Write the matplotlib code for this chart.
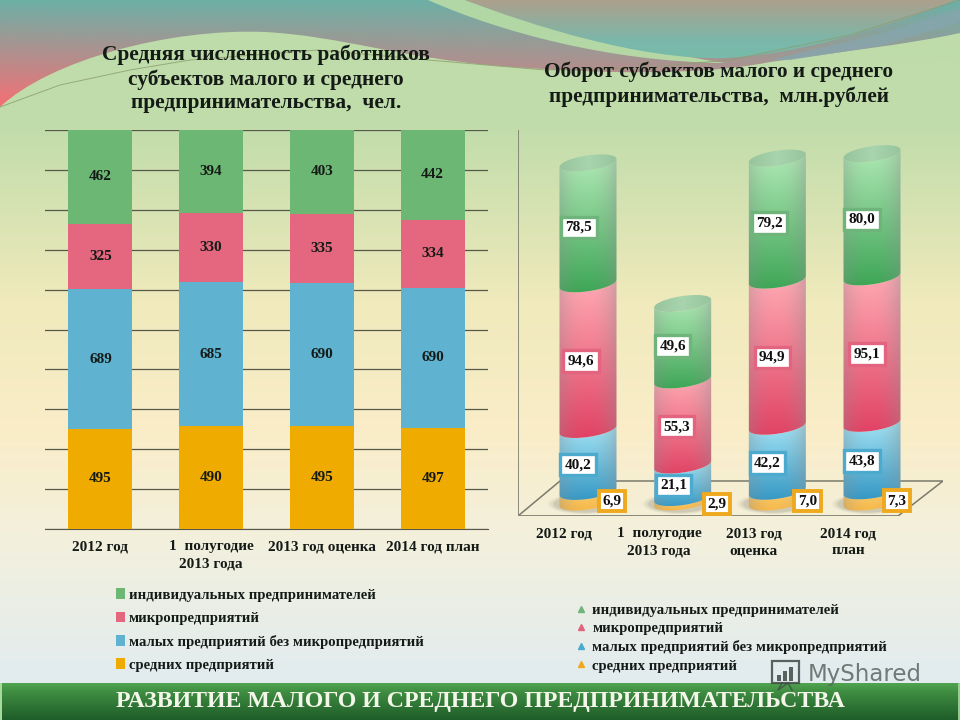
import matplotlib
matplotlib.use('Agg')
import matplotlib.pyplot as plt
import numpy as np
from matplotlib.lines import Line2D
from matplotlib.patches import Ellipse, PathPatch, Patch, Polygon, Rectangle
from matplotlib.path import Path

plt.rcParams['font.family'] = ['Liberation Serif', 'DejaVu Serif']
plt.rcParams['font.weight'] = 'bold'

series_names = ['средних предприятий', 'малых предприятий без микропредприятий',
                'микропредприятий', 'индивидуальных предпринимателей']
staff_medium = [495, 490, 495, 497]
staff_small = [689, 685, 690, 690]
staff_micro = [325, 330, 335, 334]
staff_individual = [462, 394, 403, 442]
staff_years = ['2012 год', '1  полугодие\n2013 года', '2013 год оценка', '2014 год план']

turnover_medium = [6.9, 2.9, 7.0, 7.3]
turnover_small = [40.2, 21.1, 42.2, 43.8]
turnover_micro = [94.6, 55.3, 94.9, 95.1]
turnover_individual = [78.5, 49.6, 79.2, 80.0]
turnover_years = ['2012 год', '1  полугодие\n2013 года', '2013 год\nоценка', '2014 год\nплан']

FLAT = ['#F0AB00', '#5FB3D1', '#E5677F', '#6DB774']
EDGE = ['#EFA91E', '#4BAACD', '#E2647F', '#6FB47A']
CYL_TOP = [(252, 208, 115), (165, 228, 245), (255, 170, 180), (175, 232, 180)]
CYL_BOT = [(246, 182, 70), (50, 150, 195), (225, 65, 100), (60, 165, 85)]
INK = '#141A16'
W, H = 960, 720


def px_axes(x0, y0, x1, y1):
    return fig.add_axes([x0 / W, 1 - y1 / H, (x1 - x0) / W, (y1 - y0) / H])


def lerp_image(stops, n=256):
    ys = np.linspace(0, 1, n)
    pos = [s[0] for s in stops]
    return np.stack([np.interp(ys, pos, [s[1][k] / 255 for s in stops]) for k in range(3)], axis=1)[:, None, :]


fig = plt.figure(figsize=(9.6, 7.2), dpi=100)

# background, in pixel coordinates
bg = fig.add_axes([0, 0, 1, 1], zorder=0)
bg.set_xlim(0, W)
bg.set_ylim(H, 0)
bg.axis('off')
bg.imshow(lerp_image([(0, (190, 220, 170)), (0.17, (192, 220, 170)), (0.42, (240, 234, 188)),
                      (0.6, (250, 237, 200)), (0.76, (242, 240, 222)), (0.93, (227, 236, 238)),
                      (1, (225, 235, 240))]),
          extent=(0, W, H, 0), aspect='auto', zorder=0)


def swoosh(verts, codes, stops, z, angle=False):
    patch = PathPatch(Path(verts, codes), fc='none', ec='none', zorder=z)
    bg.add_patch(patch)
    img = lerp_image(stops)
    if angle:
        # left side runs red further up than the right
        xs = np.linspace(0, 1, 256)[None, :, None]
        ys = np.linspace(0, 1, 256)[:, None, None]
        start, end = np.array(stops[0][1]), np.array(stops[1][1])
        img = np.clip((start + (end - start) * (ys * (1.3 - 0.45 * xs))) / 255, 0, 1)
        extent = (0, W, 115, 0)
    else:
        extent = (0, W, 70, 0)
    im = bg.imshow(img, extent=extent, aspect='auto', zorder=z)
    im.set_clip_path(patch)


M, C = Path.MOVETO, Path.CURVE4
L = Path.LINETO
left_wave = [(0, 107), (50, 60), (170, 28), (265, 32), (340, 36), (400, 58), (500, 66),
             (600, 74), (700, 76), (770, 62), (840, 52), (910, 44), (960, 33), (960, 0), (0, 0), (0, 107)]
swoosh(left_wave, [M] + [C] * 12 + [L, L, L],
       [(0, (108, 176, 166)), (1, (222, 122, 125))], 1, angle=True)
band = [(428, 0), (500, 32), (610, 62), (725, 63), (640, 50), (530, 22), (465, 0), (428, 0)]
swoosh(band, [M] + [C] * 6 + [L], [(0, (176, 216, 165)), (1, (182, 215, 165))], 2)
right_wave = [(465, 0), (530, 25), (640, 60), (722, 58), (790, 56), (880, 30), (955, 0), (465, 0)]
swoosh(right_wave, [M] + [C] * 6 + [L], [(0, (172, 160, 140)), (0.6, (122, 184, 170)), (1, (118, 190, 172))], 3)
bg.add_patch(Polygon([(770, 60), (880, 34), (960, 8), (960, 22), (880, 46), (790, 60)],
                     fc='#86A6AE', ec='none', alpha=0.8, zorder=4))
bg.plot([0, 60, 130, 190, 318, 428, 545, 640, 730, 850, 960], [107, 85, 70, 60, 50, 60, 70, 68, 60, 35, 0],
        color='#8E9C70', lw=0.7, alpha=0.8, zorder=4)

# footer
bg.imshow(lerp_image([(0, (80, 165, 80)), (0.25, (62, 140, 65)), (1, (30, 92, 40))]),
          extent=(0, W, 720, 683), aspect='auto', zorder=5)
bg.set_xlim(0, W)
bg.set_ylim(H, 0)
bg.plot([1, 1], [684, 720], color='#A9DDA0', lw=1.4, zorder=6)
bg.plot([958.5, 958.5], [684, 720], color='#A9DDA0', lw=1.2, zorder=6)
bg.text(480, 701, 'РАЗВИТИЕ МАЛОГО И СРЕДНЕГО ПРЕДПРИНИМАТЕЛЬСТВА', color='#F3F6E8', fontsize=17.2,
        ha='center', va='center', zorder=7)

# watermark
bg.text(808, 675, 'MyShared', family='DejaVu Sans', weight='normal', fontsize=16.5, color='#5A6660',
        alpha=0.85, va='center', zorder=8)
bg.add_patch(Rectangle((772, 661), 27, 22, fc='none', ec='#3F4A45', lw=1.6, alpha=0.85, zorder=8))
for bx, bh in [(777, 6), (783, 10), (789, 14)]:
    bg.add_patch(Rectangle((bx, 681 - bh), 4, bh, fc='#3F4A45', ec='none', alpha=0.85, zorder=8))
bg.plot([782, 778, 788, 792], [683, 690, 683, 690], color='#3F4A45', lw=1.2, alpha=0.7, zorder=8)

# titles
bg.text(266, 79, 'Средняя численность работников\nсубъектов малого и среднего\nпредпринимательства,  чел.',
        ha='center', va='center', fontsize=15.4, linespacing=1.26, color=INK, zorder=9)
bg.text(719, 84, 'Оборот субъектов малого и среднего\nпредпринимательства,  млн.рублей',
        ha='center', va='center', fontsize=15.3, linespacing=1.26, color=INK, zorder=9)

# left chart: 100% stacked bars
ax = px_axes(45, 130, 488, 529)
ax.set_zorder(2)
ax.patch.set_visible(False)
staff = np.array([staff_medium, staff_small, staff_micro, staff_individual], dtype=float)
shares = staff / staff.sum(axis=0) * 100
x = np.arange(4)
bottom = np.zeros(4)
for k in range(4):
    ax.bar(x, shares[k], 0.58, bottom=bottom, color=FLAT[k], zorder=3)
    for i in range(4):
        ax.text(i, bottom[i] + shares[k][i] / 2, f'{int(staff[k][i])}', ha='center', va='center',
                fontsize=11, color=INK, zorder=4)
    bottom += shares[k]
ax.set_xlim(-0.5, 3.5)
ax.set_ylim(0, 100)
ax.set_yticks(np.arange(0, 101, 10))
ax.set_yticklabels([])
ax.yaxis.grid(True, color='#55584A', lw=0.9, zorder=0)
ax.tick_params(axis='y', length=0)
ax.tick_params(axis='x', length=0, pad=8)
ax.set_xticks(x)
ax.set_xticklabels(staff_years, fontsize=11, color=INK, linespacing=1.42)
for side in ['left', 'right', 'top']:
    ax.spines[side].set_visible(False)
ax.spines['bottom'].set_color('#55584A')

handles = [Patch(fc=FLAT[k], ec='none') for k in range(3, -1, -1)]
fig.legend(handles, series_names[::-1], loc='upper left', bbox_to_anchor=(109 / W, 1 - 581 / H), frameon=False,
           fontsize=10.65, labelspacing=0.66, handlelength=0.55, handleheight=0.7, handletextpad=0.27,
           borderpad=0, labelcolor=INK)

# right chart: cylinders, pixel scale of the value axis set from the axes box
PX_Y = 1.54
PX_X = 94.67
BASE_PX = 502
ax2 = px_axes(518, 130, 943, 516)
ax2.set_zorder(2)
ax2.patch.set_visible(False)
xlim2 = ((518 - 588) / PX_X, (943 - 588) / PX_X)
ylim2 = ((BASE_PX - 516) / PX_Y, (BASE_PX - 130) / PX_Y)
RAD, SAG, TILT = 28.5, 7.5, 4.0


def arc(cx, level, t):
    return cx + RAD * np.cos(t) / PX_X, level + (SAG * np.sin(t) + TILT * np.cos(t)) / PX_Y


def gradient(top, bot):
    n = 64
    v = np.linspace(0, 1, n)[:, None, None]
    u = np.linspace(-1, 1, n)[None, :, None]
    col = (np.array(top) * (1 - v) + np.array(bot) * v) / 255
    edge = np.abs(u + 0.05) ** 2.2
    col = col * (1 - 0.42 * edge) + 0.55 * 0.42 * edge
    return np.clip(col, 0, 1)


turnover = np.array([turnover_medium, turnover_small, turnover_micro, turnover_individual])
label_dx = [[24, 34, 30, 25], [-10, -9, -10, -10], [-7, -6, -5, -5], [-9, -10, -8, -10]]

# floor and wall
ax2.add_patch(Polygon([(xlim2[0], ylim2[0]), ((898 - 588) / PX_X, ylim2[0]),
                       (xlim2[1], (BASE_PX - 481) / PX_Y), ((560 - 588) / PX_X, (BASE_PX - 481) / PX_Y)],
                      closed=True, fc='none', ec='#7A7A6C', lw=1.1, zorder=1))
ax2.plot([xlim2[0]] * 2, ylim2, color='#7A7A6C', lw=1.2, zorder=1)
ax2.plot([xlim2[0], (898 - 588) / PX_X], [ylim2[0]] * 2, color='#8A8A7C', lw=2, zorder=1)

ts = np.linspace(np.pi, 2 * np.pi, 40)
tt = np.linspace(0, 2 * np.pi, 80)
for i in range(4):
    for grow, al in [(1.28, 0.05), (1.18, 0.08), (1.08, 0.12)]:
        ax2.add_patch(Ellipse((i - 0.04, -2.0 / PX_Y), 2 * RAD * grow / PX_X, 2 * 8 * grow / PX_Y,
                              fc='#55554A', ec='none', alpha=al, zorder=2))
    level = 0.0
    for k in range(4):
        val = turnover[k][i]
        top_level = level + val
        xa, ya = arc(i, level, ts)
        xb, yb = arc(i, top_level, ts[::-1])
        seg = PathPatch(Path(np.column_stack([np.r_[xa, xb], np.r_[ya, yb]])), fc='none', ec='none', zorder=3)
        ax2.add_patch(seg)
        ext = (i - 0.32, i + 0.32, level - (SAG + TILT) / PX_Y, top_level + TILT / PX_Y)
        im = ax2.imshow(gradient(CYL_TOP[k], CYL_BOT[k]), extent=ext, origin='upper',
                        aspect='auto', zorder=3, interpolation='bilinear')
        im.set_clip_path(seg)
        # the label box sits on the segment, a little below its middle
        ax2.annotate(f'{val:.1f}'.replace('.', ','), (i, level + val / 2),
                     xytext=(label_dx[k][i] * 0.72, -3), textcoords='offset points', ha='center', va='center',
                     fontsize=11, color='#101010', zorder=6,
                     bbox=dict(boxstyle='square,pad=0.28' if k else 'square,pad=0.24', fc='white', ec=EDGE[k],
                               lw=2.4 if k else 2.8))
        level = top_level
    xc, yc = arc(i, level, tt)
    cap = PathPatch(Path(np.column_stack([xc, yc])), fc='none', ec='none', zorder=4)
    ax2.add_patch(cap)
    u = np.linspace(-1, 1, 64)[None, :, None]
    cap_img = np.clip((np.array((150, 195, 155)) + 18 * (1 - np.abs(u))) / 255, 0, 1)
    im = ax2.imshow(cap_img, extent=(i - 0.32, i + 0.32, level - 12 / PX_Y, level + 12 / PX_Y), aspect='auto',
                    zorder=4)
    im.set_clip_path(cap)

ax2.set_xlim(*xlim2)
ax2.set_ylim(*ylim2)
ax2.set_xticks(np.arange(4) - 0.25)
ax2.set_xticklabels(turnover_years, fontsize=11, color=INK, linespacing=1.4)
ax2.set_yticks([])
ax2.tick_params(axis='x', length=0, pad=8)
for spine in ax2.spines.values():
    spine.set_visible(False)

handles2 = [Line2D([], [], ls='none', marker='^', ms=5, color=EDGE[k]) for k in range(3, -1, -1)]
fig.legend(handles2, series_names[::-1], loc='upper left', bbox_to_anchor=(568 / W, 1 - 596 / H), frameon=False,
           fontsize=10.65, labelspacing=0.34, handlelength=0.7, handletextpad=0.45, borderpad=0,
           labelcolor=INK)

fig.savefig('out.png', dpi=100)
